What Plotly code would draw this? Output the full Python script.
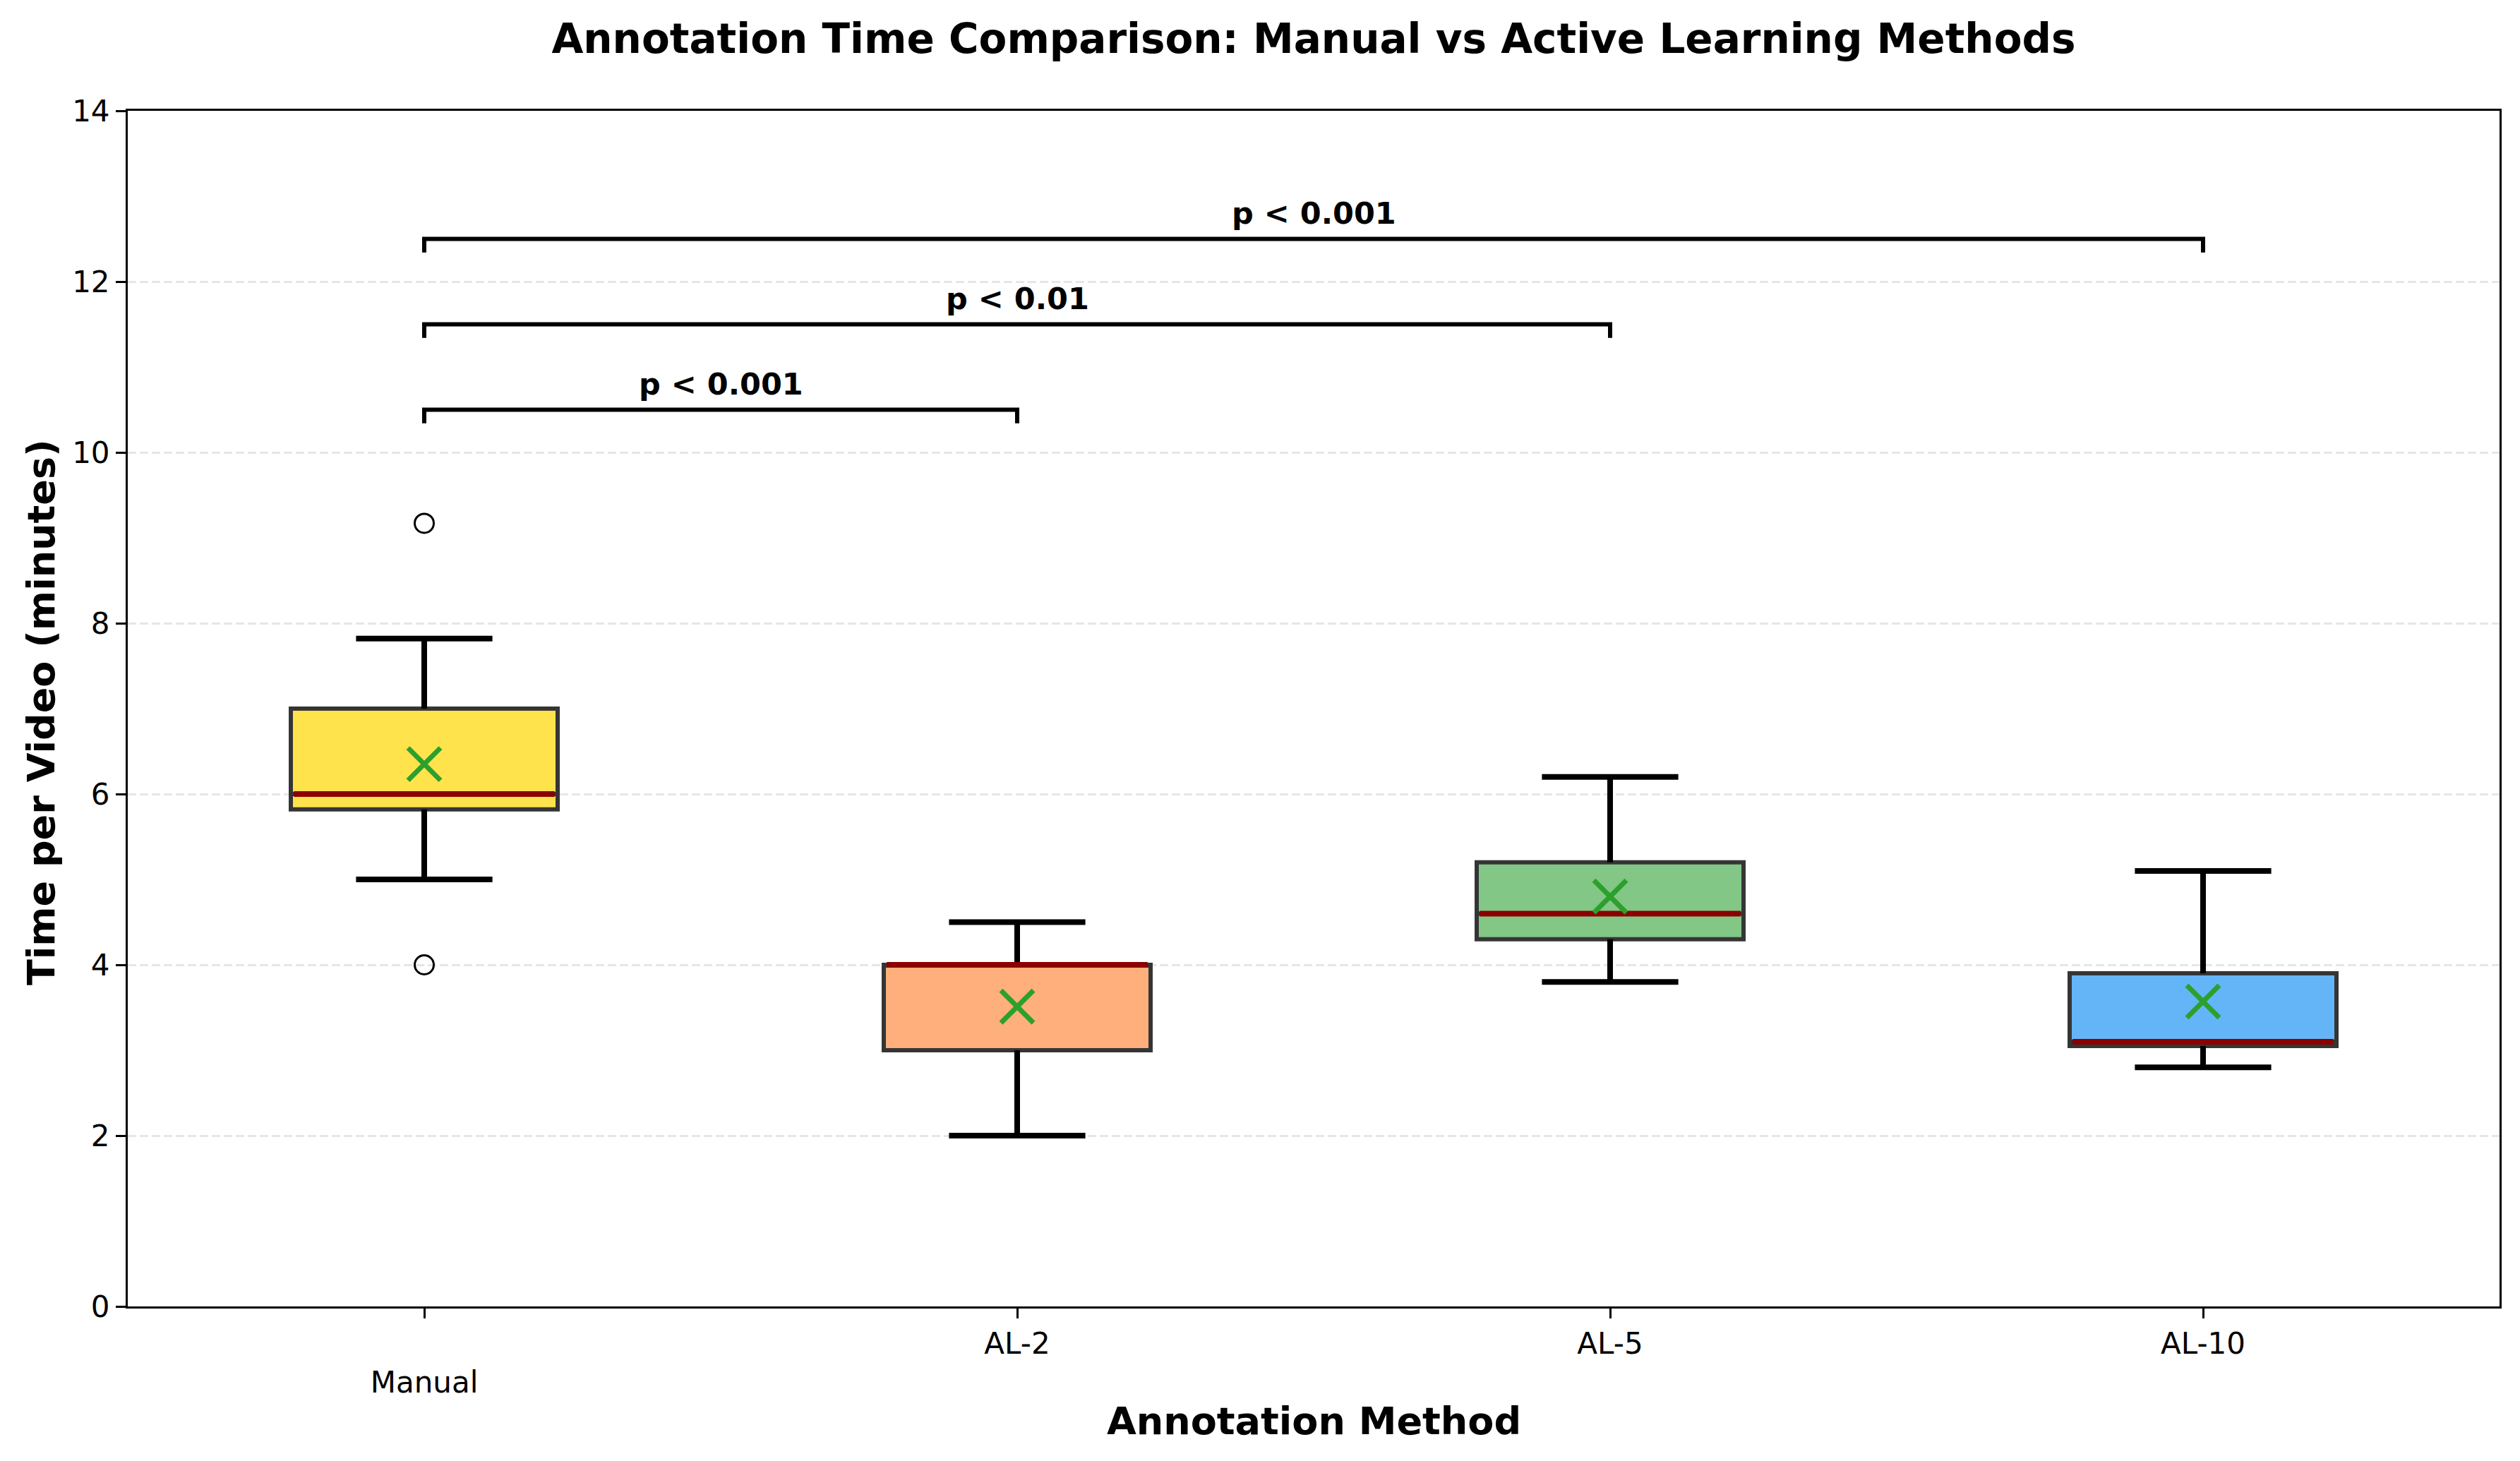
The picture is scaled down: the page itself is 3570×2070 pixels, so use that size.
import plotly.graph_objects as go

# ---- data ----
methods = ["Manual", "AL-2", "AL-5", "AL-10"]
tick_text = ["<br>Manual", "AL-2", "AL-5", "AL-10"]
lower_whisker = [5.0, 2.0, 3.8, 2.8]
q1_vals = [5.82, 3.0, 4.3, 3.05]
median_vals = [6.0, 4.0, 4.6, 3.1]
q3_vals = [7.0, 4.0, 5.2, 3.9]
upper_whisker = [7.82, 4.5, 6.2, 5.1]
mean_vals = [6.35, 3.51, 4.80, 3.57]
outlier_idx = [0, 0]
outlier_vals = [9.17, 4.0]
fill_colors = ["#FFE34D", "#FFAF7B", "#82C785", "#64B5F7"]

sig_from = [0, 0, 0]
sig_to = [1, 2, 3]
sig_level = [10.5, 11.5, 12.5]
sig_text = ["p < 0.001", "p < 0.01", "p < 0.001"]

y_ticks = [0, 2, 4, 6, 8, 10, 12, 14]

FONT = "DejaVu Sans"
BOX_W = 0.45
CAP_HALF = 0.115
MED_HALF = 0.22
BR_DROP = 0.16

pos = list(range(len(methods)))
fig = go.Figure()

for i in pos:
    fig.add_trace(go.Box(
        x=[i], q1=[q1_vals[i]], median=[median_vals[i]], q3=[q3_vals[i]],
        lowerfence=[lower_whisker[i]], upperfence=[upper_whisker[i]],
        width=BOX_W, whiskerwidth=0.5, fillcolor=fill_colors[i],
        line=dict(color="#353535", width=6), boxpoints=False,
        hoverinfo="skip", showlegend=False))

# whiskers and caps (black)
wx, wy = [], []
for i in pos:
    wx += [i, i, None, i, i, None]
    wy += [q3_vals[i], upper_whisker[i], None, q1_vals[i], lower_whisker[i], None]
    wx += [i - CAP_HALF, i + CAP_HALF, None, i - CAP_HALF, i + CAP_HALF, None]
    wy += [upper_whisker[i], upper_whisker[i], None, lower_whisker[i], lower_whisker[i], None]
fig.add_trace(go.Scatter(x=wx, y=wy, mode="lines", line=dict(color="black", width=8),
                         hoverinfo="skip", showlegend=False))

# medians
mx, my = [], []
for i in pos:
    mx += [i - MED_HALF, i + MED_HALF, None]
    my += [median_vals[i], median_vals[i], None]
fig.add_trace(go.Scatter(x=mx, y=my, mode="lines", line=dict(color="#8B0000", width=8),
                         hoverinfo="skip", showlegend=False))

# means
fig.add_trace(go.Scatter(x=pos, y=mean_vals, mode="markers",
                         marker=dict(symbol="x-thin", size=46, color="#2CA02C",
                                     line=dict(color="#2CA02C", width=7)),
                         hoverinfo="skip", showlegend=False))

# outliers
fig.add_trace(go.Scatter(x=outlier_idx, y=outlier_vals, mode="markers",
                         marker=dict(symbol="circle-open", size=27, color="black",
                                     line=dict(color="black", width=3)),
                         hoverinfo="skip", showlegend=False))

# significance brackets
bx, by = [], []
for a, b, h in zip(sig_from, sig_to, sig_level):
    bx += [a, a, b, b, None]
    by += [h - BR_DROP, h, h, h - BR_DROP, None]
fig.add_trace(go.Scatter(x=bx, y=by, mode="lines", line=dict(color="black", width=6),
                         hoverinfo="skip", showlegend=False))

annotations = []
for a, b, h, t in zip(sig_from, sig_to, sig_level, sig_text):
    annotations.append(dict(x=(a + b) / 2, y=h + 0.08, xref="x", yref="y",
                            text="<b>" + t + "</b>", showarrow=False, yanchor="bottom",
                            font=dict(family=FONT, size=43, color="black")))

L, R, T, B = 181, 29, 157, 219
W, H = 3570, 2070
pw, ph = W - L - R, H - T - B

annotations.append(dict(x=0.5, y=-(2014 - (H - B)) / ph, xref="paper", yref="paper",
                        text="<b>Annotation Method</b>", showarrow=False,
                        xanchor="center", yanchor="middle",
                        font=dict(family=FONT, size=54, color="black")))
annotations.append(dict(x=(58 - L) / pw, y=0.497, xref="paper", yref="paper",
                        text="<b>Time per Video (minutes)</b>", showarrow=False,
                        textangle=-90, xanchor="center", yanchor="middle",
                        font=dict(family=FONT, size=54, color="black")))

fig.update_layout(
    width=W, height=H,
    margin=dict(l=L, r=R, t=T, b=B, pad=0),
    paper_bgcolor="white", plot_bgcolor="white",
    title=dict(text="<b>Annotation Time Comparison: Manual vs Active Learning Methods</b>",
               x=0.5, xref="paper", y=1 - 55 / H, yref="container", yanchor="middle",
               font=dict(family=FONT, size=58, color="black")),
    annotations=annotations,
    showlegend=False,
    font=dict(family=FONT, color="black"),
)

fig.update_xaxes(range=[-0.5, 3.5], tickmode="array", tickvals=pos, ticktext=tick_text,
                 showgrid=False, zeroline=False, showline=True, linecolor="black",
                 linewidth=3, mirror=True, ticks="outside", ticklen=14, tickwidth=3,
                 tickcolor="black", tickfont=dict(family=FONT, size=42, color="black"))
fig.update_yaxes(range=[0, 14], tickmode="array", tickvals=y_ticks,
                 showgrid=True, gridcolor="#e6e6e6", gridwidth=3, griddash="12px,5px",
                 zeroline=False, showline=True, linecolor="black", linewidth=3, mirror=True,
                 ticks="outside", ticklen=14, tickwidth=3, tickcolor="black",
                 tickfont=dict(family=FONT, size=42, color="black"))

fig.write_html("out.html")
